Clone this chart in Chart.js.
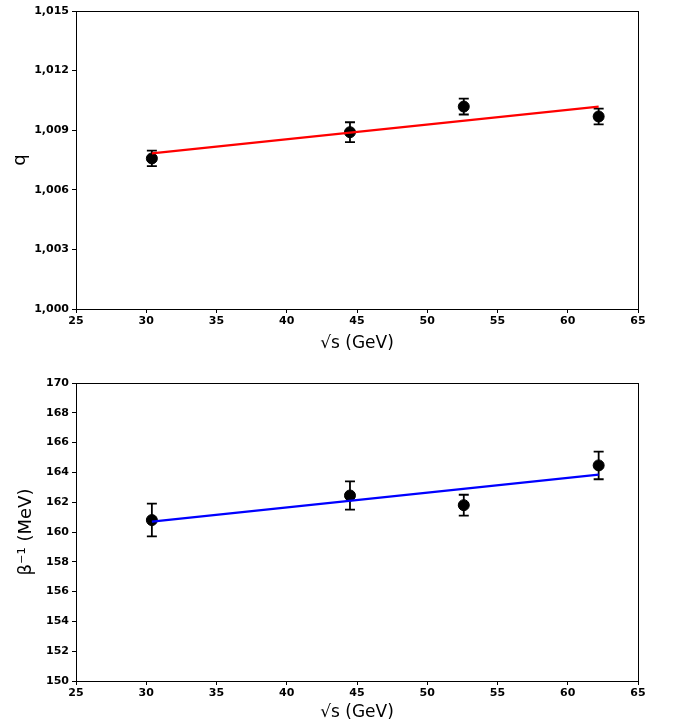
<!DOCTYPE html>
<html>
<head>
<meta charset="utf-8">
<script src="https://cdn.jsdelivr.net/npm/chart.js@4/dist/chart.umd.min.js"></script>
<style>
  html, body { margin:0; padding:0; background:#fff; }
  canvas { display:block; }
</style>
</head>
<body>
<canvas id="qChart" width="673" height="361"></canvas>
<canvas id="betaChart" width="673" height="362"></canvas>
<script>
/* data */
const energies = [30.4, 44.5, 52.6, 62.2];
const qValues = [1.00758, 1.0089, 1.01019, 1.00969];
const qErrors = [0.00039, 0.0005, 0.0004, 0.0004];
const fitX = [30.4, 62.2];
const qFit = [1.00783, 1.01019];
const betaValues = [160.8, 162.45, 161.8, 164.47];
const betaErrors = [1.1, 0.95, 0.7, 0.93];
const betaFit = [160.7, 163.85];
const xTicks = [25, 30, 35, 40, 45, 50, 55, 60, 65];

Chart.defaults.font.family = "'DejaVu Sans', sans-serif";
Chart.defaults.color = "#000";

const pts = (xs, ys) => xs.map((x, i) => ({x, y: ys[i]}));

// error bars under the markers
const errorBars = {
  id: "errorBars",
  beforeDatasetsDraw(chart){
    const {ctx, scales:{x, y}} = chart;
    chart.data.datasets.forEach((ds, i) => {
      if(!ds.errors) return;
      ctx.save();
      ctx.strokeStyle = "#000";
      ctx.lineWidth = 1.8;
      ds.data.forEach((p, j) => {
        const px = x.getPixelForValue(p.x);
        const top = y.getPixelForValue(p.y + ds.errors[j]);
        const bot = y.getPixelForValue(p.y - ds.errors[j]);
        ctx.beginPath();
        ctx.moveTo(px, top); ctx.lineTo(px, bot);
        ctx.moveTo(px - 5, top); ctx.lineTo(px + 5, top);
        ctx.moveTo(px - 5, bot); ctx.lineTo(px + 5, bot);
        ctx.stroke();
      });
      ctx.restore();
    });
  }
};

// full box round the plot area
const frame = {
  id: "frame",
  afterDraw(chart){
    const {ctx, chartArea:a} = chart;
    ctx.save();
    ctx.strokeStyle = "#000";
    ctx.lineWidth = 1;
    ctx.strokeRect(Math.round(a.left) + 0.5, Math.round(a.top) + 0.5,
      Math.round(a.right - a.left), Math.round(a.bottom - a.top));
    ctx.restore();
  }
};

function mkPlot(id, vals, errs, fit, fitColor, yOpts, yTitle, layout){
  const ctx = document.getElementById(id);
  return new Chart(ctx, {
    type: "scatter",
    data: {
      datasets: [
        { type:"line", data: pts(fitX, fit), borderColor: fitColor, borderWidth: 2.2,
          pointRadius: 0, fill: false, tension: 0 },
        { data: pts(energies, vals), errors: errs, backgroundColor: "#000",
          borderColor: "#000", pointRadius: 5.5, pointHoverRadius: 5.5 }
      ]
    },
    options: {
      responsive: false, animation: false, devicePixelRatio: 1,
      layout: { padding: { top: layout.top, right: 35, left: 0, bottom: 0 } },
      plugins: { legend: { display:false }, tooltip: { enabled:false } },
      scales: {
        x: {
          type: "linear", min: 25, max: 65,
          afterBuildTicks: s => { s.ticks = xTicks.map(v => ({value: v})); },
          afterFit: s => { s.height = layout.xh; },
          grid: { drawOnChartArea: false, tickLength: 4, color: "#000" },
          border: { display: true, color: "#000" },
          ticks: { font: { size: 11, weight: "bold" }, padding: 2, maxRotation: 0 },
          title: { display: true, text: "√s (GeV)", font: { size: 17 },
                   padding: { top: 0, bottom: layout.xtp } }
        },
        y: {
          ...yOpts,
          afterFit: s => { s.width = 76; },
          grid: { drawOnChartArea: false, tickLength: 4, color: "#000" },
          border: { display: true, color: "#000" },
          ticks: { ...yOpts.ticks, font: { size: 11, weight: "bold" }, padding: 3 },
          title: { display: true, text: yTitle, font: { size: 18 },
                   padding: { top: layout.ytp, bottom: 0 } }
        }
      }
    },
    plugins: [errorBars, frame]
  });
}

mkPlot("qChart", qValues, qErrors, qFit, "#ff0000",
  { min: 1.000, max: 1.015,
    ticks: { stepSize: 0.003, callback: v => v.toFixed(3).replace(".", ",") } },
  "q", { top: 11, xh: 52, xtp: 7, ytp: 10 });

mkPlot("betaChart", betaValues, betaErrors, betaFit, "#0000ff",
  { min: 150, max: 170, ticks: { stepSize: 2 } },
  "β⁻¹ (MeV)", { top: 22, xh: 42, xtp: 0, ytp: 16 });
</script>
</body>
</html>
